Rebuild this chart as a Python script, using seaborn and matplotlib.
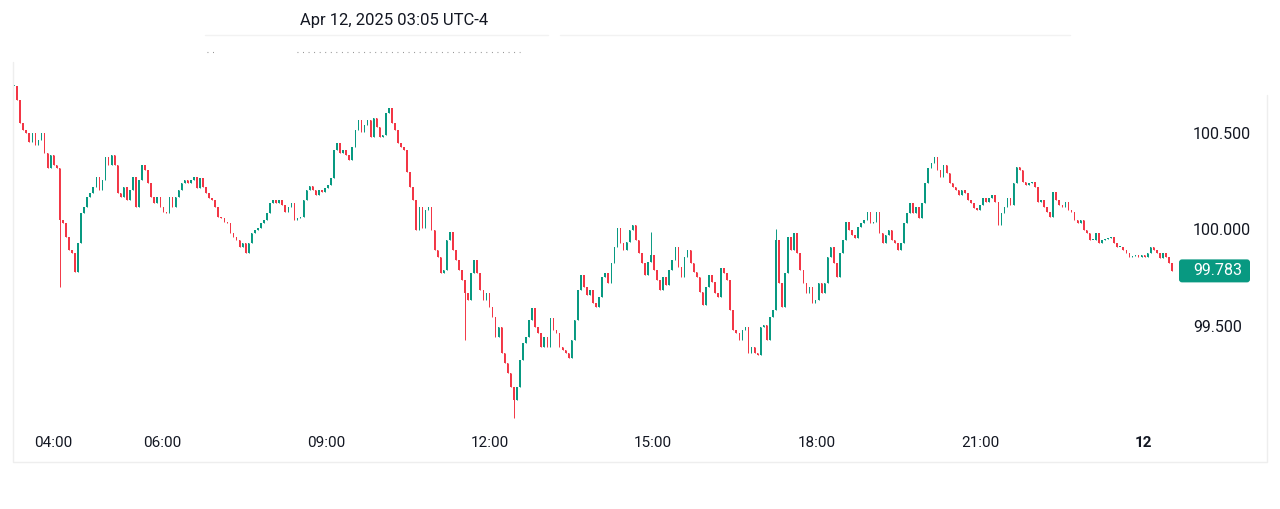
import matplotlib
matplotlib.use("Agg")
import matplotlib.pyplot as plt
import matplotlib.dates as mdates
from matplotlib.lines import Line2D
from matplotlib.patches import FancyBboxPatch
from matplotlib.transforms import IdentityTransform
import numpy as np
import pandas as pd
import seaborn as sns

#%% datos (cierres de cada vela)
closes_overnight = [
    100.741, 100.668, 100.549, 100.513, 100.497, 100.451, 100.497, 100.435, 100.461, 100.497,
    100.394, 100.316, 100.383, 100.332, 100.316, 100.047, 100.031, 99.959, 99.891, 99.876,
    99.777, 99.927, 100.083, 100.114, 100.166, 100.187, 100.218, 100.269, 100.202, 100.254,
    100.373, 100.332, 100.383, 100.332, 100.187, 100.166, 100.218, 100.150, 100.202, 100.269,
    100.114, 100.254, 100.332, 100.306, 100.238, 100.166, 100.135, 100.166, 100.114, 100.088,
    100.083, 100.166, 100.114, 100.166, 100.202, 100.238, 100.254, 100.238, 100.254, 100.269,
    100.212, 100.264, 100.218, 100.187, 100.161, 100.150, 100.114, 100.062, 100.057, 100.036,
    100.031, 99.979, 99.959, 99.943, 99.907, 99.927, 99.876, 99.927, 99.979, 99.995,
    100.005, 100.031, 100.047, 100.083, 100.135, 100.150, 100.135, 100.150, 100.124, 100.088,
    100.114, 100.135, 100.047, 100.057, 100.062,
]
closes_morning = [
    100.150, 100.202, 100.223, 100.202, 100.176, 100.202, 100.192, 100.212, 100.228, 100.264,
    100.409, 100.446, 100.394, 100.409, 100.383, 100.358, 100.425, 100.513, 100.565, 100.503,
    100.539, 100.565, 100.477, 100.575, 100.528, 100.477, 100.487, 100.601, 100.627, 100.549,
    100.513, 100.446, 100.425, 100.409, 100.295, 100.218, 100.150, 99.995, 100.114, 100.005,
    100.098, 100.114, 99.995, 99.891, 99.855, 99.772, 99.788, 99.943, 99.984, 99.891,
    99.839, 99.788, 99.736, 99.668, 99.632, 99.772, 99.839, 99.772, 99.684, 99.632,
    99.668, 99.596, 99.544, 99.440, 99.492, 99.358, 99.306, 99.254, 99.181, 99.114,
    99.181, 99.321, 99.409, 99.440, 99.528, 99.591, 99.492, 99.461, 99.389, 99.440,
    99.389, 99.539, 99.477, 99.461, 99.389, 99.373, 99.358, 99.332, 99.425, 99.528,
    99.684, 99.762, 99.699, 99.658, 99.684, 99.617,
]
closes_afternoon = [
    99.596, 99.648, 99.751, 99.772, 99.720, 99.824, 99.907, 100.005, 99.927, 99.891,
    99.933, 99.995, 100.021, 99.943, 99.876, 99.824, 99.762, 99.829, 99.865, 99.788,
    99.736, 99.684, 99.751, 99.710, 99.788, 99.839, 99.907, 99.803, 99.751, 99.855,
    99.891, 99.824, 99.777, 99.751, 99.674, 99.606, 99.699, 99.762, 99.725, 99.668,
    99.648, 99.798, 99.772, 99.736, 99.580, 99.477, 99.461, 99.425, 99.477, 99.492,
    99.358, 99.389, 99.358, 99.347, 99.492, 99.503, 99.425, 99.544, 99.580, 99.943,
    99.720, 99.596, 99.772, 99.959, 99.891, 99.979, 99.876, 99.788, 99.720, 99.668,
    99.699, 99.617, 99.632, 99.720, 99.668, 99.720, 99.855, 99.907, 99.824, 99.751,
    99.876, 99.943, 100.036, 99.995, 99.969, 99.953, 100.010, 100.031, 100.047, 100.088,
    100.031, 100.036, 100.088, 99.979, 99.927,
]
closes_evening = [
    99.969, 99.995, 99.943, 99.927, 99.891, 99.927, 100.031, 100.083, 100.135, 100.083,
    100.114, 100.057, 100.135, 100.238, 100.316, 100.342, 100.373, 100.306, 100.269, 100.332,
    100.290, 100.238, 100.218, 100.202, 100.176, 100.202, 100.187, 100.150, 100.135, 100.109,
    100.098, 100.124, 100.161, 100.140, 100.161, 100.176, 100.140, 100.021, 100.083, 100.114,
    100.161, 100.124, 100.238, 100.321, 100.306, 100.244, 100.228, 100.238, 100.244, 100.218,
    100.140, 100.150, 100.114, 100.088, 100.062, 100.192, 100.150, 100.124, 100.114, 100.140,
    100.098, 100.088, 100.047, 100.031, 100.047, 99.995, 99.979, 99.943, 99.943, 99.979,
    99.927, 99.943, 99.948, 99.953, 99.959, 99.927, 99.907, 99.907, 99.891, 99.876,
    99.855, 99.860, 99.865, 99.855, 99.865, 99.855, 99.876, 99.907, 99.891, 99.876,
    99.850, 99.876, 99.855, 99.824, 99.783,
]
# mechas largas (indice de vela -> precio)
wick_lows = {15: 99.699, 148: 99.425, 164: 99.021}
wick_highs = {209: 99.984, 250: 100.000}

first_candle = "2025-04-11 03:16:31"
last_candle = "2025-04-12 00:31:23"
x_tick_times = ["2025-04-11 04:00", "2025-04-11 06:00", "2025-04-11 09:00", "2025-04-11 12:00",
                "2025-04-11 15:00", "2025-04-11 18:00", "2025-04-11 21:00", "2025-04-12 00:00"]
x_tick_labels = ["04:00", "06:00", "09:00", "12:00", "15:00", "18:00", "21:00", "12"]
y_ticks = [99.5, 100.0, 100.5]
header = "Apr 12, 2025 03:05 UTC-4"

up_color = "#089981"
down_color = "#f23645"
text_color = "#131722"

#%% armar el dataframe de velas
closes = closes_overnight + closes_morning + closes_afternoon + closes_evening
df = pd.DataFrame({"time": pd.date_range(first_candle, last_candle, periods=len(closes)),
                   "close": closes})
df["open"] = df["close"].shift(1).fillna(df["close"])
df["high"] = df[["open", "close"]].max(axis=1)
df["low"] = df[["open", "close"]].min(axis=1)
for i, v in wick_lows.items():
    df.loc[i, "low"] = v
for i, v in wick_highs.items():
    df.loc[i, "high"] = v
df["color"] = np.where(df["close"] >= df["open"], up_color, down_color)

#%% grafico
sns.set_theme(style="white")
plt.rcParams["font.family"] = ["Roboto", "DejaVu Sans"]

W, H = 1280, 509
fig = plt.figure(figsize=(W / 100, H / 100), dpi=100)
ax = fig.add_axes([14 / W, 1 - 430 / H, 1166 / W, 365 / H])

t = mdates.date2num(df["time"])
step = t[1] - t[0]
body = (df["close"] - df["open"]).abs().clip(lower=0.003)
ax.vlines(t, df["low"], df["high"], colors=df["color"], linewidth=0.7)
ax.bar(t, body, bottom=df[["open", "close"]].min(axis=1), width=step * 0.5,
       color=df["color"], linewidth=0)

# escala: 54.5 px por hora, 09:00 en x=326 ; 193 px por unidad de precio, 100 en y=229
t0900 = mdates.date2num(pd.Timestamp("2025-04-11 09:00"))
px2t = lambda px: t0900 + (px - 326) / 54.5 / 24
ax.set_xlim(px2t(14), px2t(1180))
ax.set_ylim(100 - (430 - 229) / 193, 100 + (229 - 65) / 193)

ax.set_xticks(mdates.date2num(pd.to_datetime(x_tick_times)))
ax.set_xticklabels(x_tick_labels)
ax.get_xticklabels()[-1].set_fontweight("bold")
ax.yaxis.tick_right()
ax.set_yticks(y_ticks)
ax.set_yticklabels([f"{v:.3f}" for v in y_ticks])
ax.tick_params(axis="x", length=0, pad=4, labelsize=11, labelcolor=text_color)
ax.tick_params(axis="y", length=0, pad=9.4, labelsize=11.5, labelcolor=text_color)
ax.grid(False)
sns.despine(ax=ax, left=True, bottom=True)
ax.set_facecolor("none")

# etiqueta del ultimo precio
last = closes[-1]
yd = ax.transData.transform((ax.get_xlim()[0], last))[1]
fig.add_artist(FancyBboxPatch((1179, yd - 11.5), 71, 23, boxstyle="round,pad=0,rounding_size=3",
                              fc=up_color, ec="none", transform=IdentityTransform()))
fig.text(1193, yd, f"{last:.3f}", color="white", fontsize=11.5, va="center", ha="left",
         transform=IdentityTransform())

# marco y encabezado
idt = IdentityTransform()
frame = "#eeeeee"
fig.add_artist(Line2D([12.5, 12.5, 1267, 1267], [H - 62, H - 462, H - 462, H - 95],
                      color=frame, lw=1, transform=idt))
fig.add_artist(Line2D([205, 548], [H - 35, H - 35], color="#f2f2f2", lw=1, transform=idt))
fig.add_artist(Line2D([560, 1070], [H - 35, H - 35], color="#f2f2f2", lw=1, transform=idt))
fig.add_artist(Line2D([297, 520], [H - 52, H - 52], color="#8a8a8a", lw=0.8,
                      linestyle=(0, (0.8, 4.2)), transform=idt))
fig.add_artist(Line2D([207, 214], [H - 52, H - 52], color="#8a8a8a", lw=0.8,
                      linestyle=(0, (0.8, 4.2)), transform=idt))
fig.text(300, H - 20, header, fontsize=12, color=text_color, va="center", ha="left",
         transform=idt)

fig.savefig("out.png", dpi=100, facecolor="white")
